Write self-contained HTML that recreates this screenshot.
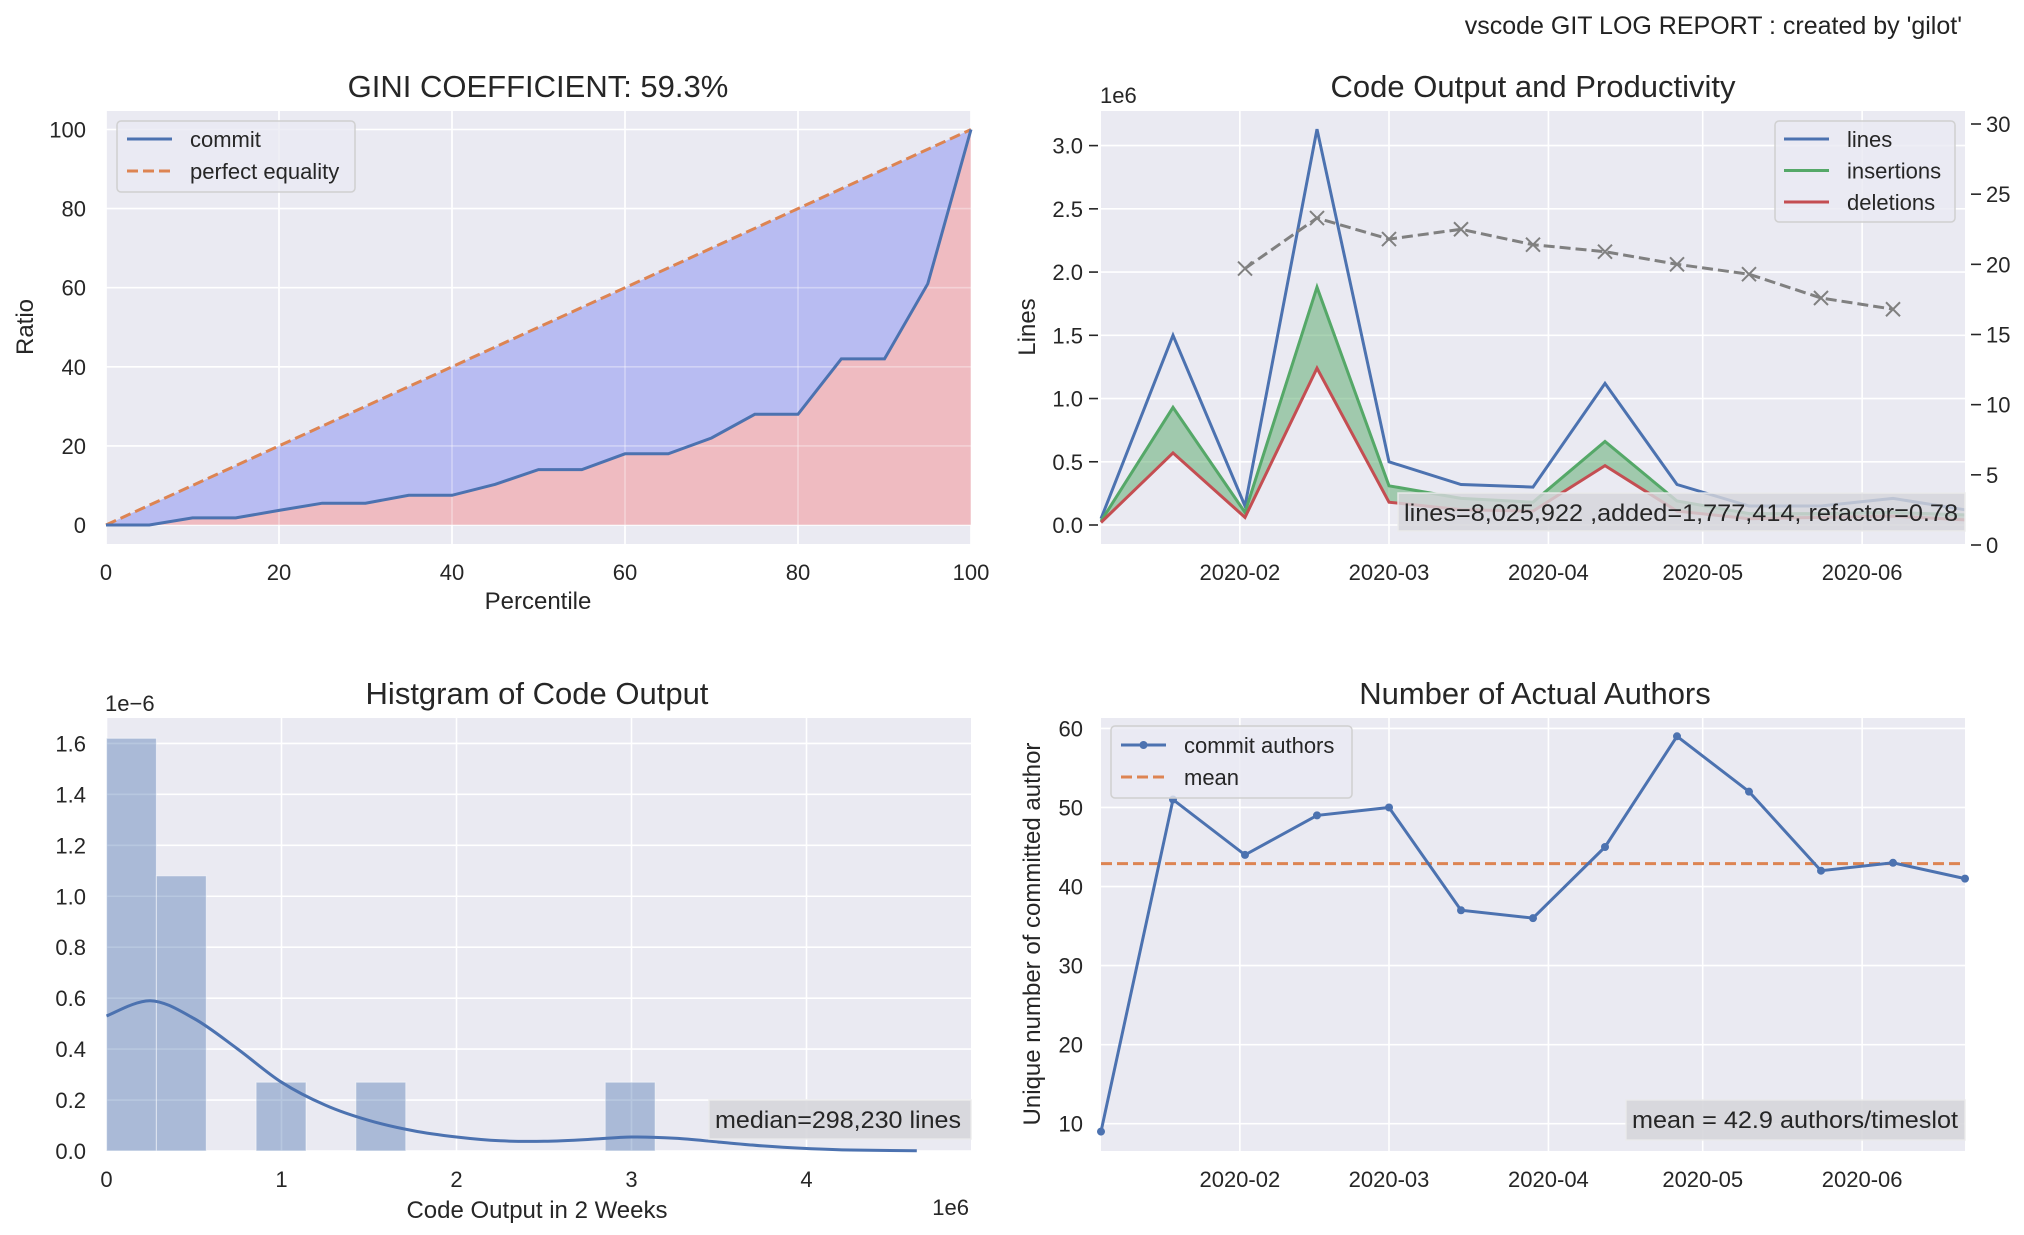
<!DOCTYPE html>
<html><head><meta charset="utf-8">
<style>
html,body{margin:0;padding:0;background:#fff;}
svg{display:block;font-family:"Liberation Sans",Arial,sans-serif;}
</style></head>
<body>
<svg id="fig" width="2024" height="1235" viewBox="0 0 2024 1235" xmlns="http://www.w3.org/2000/svg">
<text x="1962" y="34" font-size="25" text-anchor="end" fill="#222">vscode GIT LOG REPORT : created by 'gilot'</text>
</svg>
<script>
// ---------- Data ----------
const giniX = [0,5,10,15,20,25,30,35,40,45,50,55,60,65,70,75,80,85,90,95,100];
const giniCommit = [0,0,1.8,1.8,3.7,5.5,5.5,7.5,7.5,10.3,14,14,18,18,22,28,28,42,42,61,100];
const giniTicks = [0,20,40,60,80,100];

// day-of-year (0 = Jan 1 2020) for each 2-week slot
const slotDays = [4,18,32,46,60,74,88,102,116,130,144,158,172];
const dateTickDays = [31,60,91,121,152];
const dateTickLabels = ['2020-02','2020-03','2020-04','2020-05','2020-06'];
const linesVals = [0.05,1.5,0.15,3.13,0.5,0.32,0.30,1.12,0.32,0.15,0.15,0.21,0.12];
const insertVals = [0.03,0.93,0.10,1.88,0.31,0.21,0.18,0.66,0.19,0.09,0.09,0.10,0.08];
const deleteVals = [0.02,0.57,0.06,1.24,0.18,0.12,0.11,0.47,0.11,0.05,0.06,0.07,0.04];
const prodVals = [null,null,19.7,23.3,21.8,22.5,21.4,20.9,20.0,19.3,17.6,16.8,null];
const linesTicks = [0,0.5,1.0,1.5,2.0,2.5,3.0];
const prodTicks = [0,5,10,15,20,25,30];

const histEdges = [0,0.285,0.57,0.855,1.14,1.425,1.71,1.995,2.28,2.565,2.85,3.135];
const histDensity = [1.62,1.08,0,0.27,0,0.27,0,0,0,0,0.27];
const kdeX = [0,0.25,0.5,0.75,1.0,1.25,1.5,1.75,2.0,2.25,2.5,2.75,3.0,3.25,3.5,3.75,4.0,4.25,4.63];
const kdeY = [0.53,0.59,0.52,0.40,0.27,0.18,0.12,0.08,0.055,0.04,0.038,0.045,0.055,0.05,0.035,0.02,0.01,0.004,0.001];
const histXTicks = [0,1,2,3,4];
const histYTicks = [0,0.2,0.4,0.6,0.8,1.0,1.2,1.4,1.6];

const authorVals = [9,51,44,49,50,37,36,45,59,52,42,43,41];
const authorMean = 42.9;
const authorTicks = [10,20,30,40,50,60];

// ---------- helpers ----------
const NS='http://www.w3.org/2000/svg';
const svg=document.getElementById('fig');
const FT=22, FTITLE=31, FLAB=24, FLEG=22, FANN=24;
function el(tag,attrs,parent){const e=document.createElementNS(NS,tag);for(const k in attrs)e.setAttribute(k,attrs[k]);(parent||svg).appendChild(e);return e;}
function txt(s,attrs,parent){const e=el('text',attrs,parent);e.textContent=s;return e;}
function lin(d0,d1,r0,r1){return v=>r0+(v-d0)*(r1-r0)/(d1-d0);}
function pathOf(xs,ys,fx,fy){let d='';let pen=false;for(let i=0;i<xs.length;i++){if(ys[i]===null){pen=false;continue;}d+=(pen?'L':'M')+fx(xs[i]).toFixed(1)+','+fy(ys[i]).toFixed(1);pen=true;}return d;}
function smoothPath(xs,ys,fx,fy){
  const P=xs.map((x,i)=>[fx(x),fy(ys[i])]);
  let d='M'+P[0][0].toFixed(1)+','+P[0][1].toFixed(1);
  for(let i=0;i<P.length-1;i++){
    const p0=P[i-1]||P[i],p1=P[i],p2=P[i+1],p3=P[i+2]||P[i+1];
    const c1=[p1[0]+(p2[0]-p0[0])/6,p1[1]+(p2[1]-p0[1])/6];
    const c2=[p2[0]-(p3[0]-p1[0])/6,p2[1]-(p3[1]-p1[1])/6];
    d+=`C${c1[0].toFixed(1)},${c1[1].toFixed(1)} ${c2[0].toFixed(1)},${c2[1].toFixed(1)} ${p2[0].toFixed(1)},${p2[1].toFixed(1)}`;
  }
  return d;
}
const BG='#eaeaf2',TXT='#262626';
function panel(name,L,T,R,B){
  const g=el('g',{});
  const r=el('rect',{x:L,y:T,width:R-L,height:B-T,fill:BG},g);
  
  return g;
}
function grid(g,L,T,R,B,xs,ys){
  const gg=el('g',{stroke:'#fff','stroke-width':1.6},g);
  
  xs.forEach(x=>el('line',{x1:x,x2:x,y1:T,y2:B},gg));
  ys.forEach(y=>el('line',{x1:L,x2:R,y1:y,y2:y},gg));
}

// ---------- Panel 1: Gini ----------
(function(){
  const L=106,T=111,R=971,B=544;
  const fx=lin(0,100,106,971), fy=lin(0,100,525,129.5);
  const g=panel('gini-chart',L,T,R,B);
  grid(g,L,T,R,B,giniTicks.map(fx),giniTicks.map(fy));
  let top='',bot='';
  for(let i=0;i<giniX.length;i++){top+=(i?'L':'M')+fx(giniX[i])+','+fy(giniX[i]);}
  for(let i=giniX.length-1;i>=0;i--){top+='L'+fx(giniX[i])+','+fy(giniCommit[i]);}
  const f1=el('path',{d:top+'Z',fill:'rgb(184,188,242)'},g);
  
  for(let i=0;i<giniX.length;i++){bot+=(i?'L':'M')+fx(giniX[i])+','+fy(giniCommit[i]);}
  bot+='L'+fx(100)+','+fy(0)+'L'+fx(0)+','+fy(0)+'Z';
  const f2=el('path',{d:bot,fill:'rgb(239,187,193)'},g);
  
  const gg=el('g',{stroke:'rgba(255,255,255,0.35)','stroke-width':1.6},g);
  giniTicks.forEach(v=>{el('line',{x1:fx(v),x2:fx(v),y1:T,y2:B},gg);el('line',{x1:L,x2:R,y1:fy(v),y2:fy(v)},gg);});
  const pe=el('path',{d:'M'+fx(0)+','+fy(0)+'L'+fx(100)+','+fy(100),stroke:'#dd8452','stroke-width':3,'stroke-dasharray':'11,5',fill:'none'},g);
  
  const cl=el('path',{d:pathOf(giniX,giniCommit,fx,fy),stroke:'#4c72b0','stroke-width':3,fill:'none'},g);
  
  giniTicks.forEach(v=>{
    const a=txt(String(v),{x:fx(v),y:580,'font-size':FT,'text-anchor':'middle',fill:TXT},g);
    
    const b=txt(String(v),{x:86,y:fy(v)+8,'font-size':FT,'text-anchor':'end',fill:TXT},g);
    
  });
  const t=txt('GINI COEFFICIENT: 59.3%',{x:538,y:97,'font-size':FTITLE,'text-anchor':'middle',fill:TXT},g);
  
  const xl=txt('Percentile',{x:538,y:609,'font-size':FLAB,'text-anchor':'middle',fill:TXT},g);
  
  const yl=txt('Ratio',{x:33,y:327,'font-size':FLAB,'text-anchor':'middle',fill:TXT,transform:'rotate(-90 33 327)'},g);
  
  const lg=el('g',{},g);
  el('rect',{x:117,y:121,width:238,height:71,rx:4,fill:'rgba(234,234,242,0.8)',stroke:'#d0d0d0','stroke-width':1.5},lg);
  el('line',{x1:127,x2:172,y1:139,y2:139,stroke:'#4c72b0','stroke-width':3},lg);
  el('line',{x1:127,x2:172,y1:171,y2:171,stroke:'#dd8452','stroke-width':3,'stroke-dasharray':'11,5'},lg);
  txt('commit',{x:190,y:147,'font-size':FLEG,fill:TXT},lg);
  txt('perfect equality',{x:190,y:179,'font-size':FLEG,fill:TXT},lg);
})();

// ---------- Panel 2: Code Output ----------
(function(){
  const L=1101,T=111,R=1965,B=544;
  const fx=lin(4,172,1101,1965), fy=lin(0,3,525,145.6), fy2=lin(0,30,545,124);
  const g=panel('code-output-chart',L,T,R,B);
  grid(g,L,T,R,B,dateTickDays.map(fx),linesTicks.map(fy));
  let d='';
  for(let i=0;i<slotDays.length;i++)d+=(i?'L':'M')+fx(slotDays[i])+','+fy(insertVals[i]);
  for(let i=slotDays.length-1;i>=0;i--)d+='L'+fx(slotDays[i])+','+fy(deleteVals[i]);
  const fa=el('path',{d:d+'Z',fill:'rgba(85,168,104,0.5)'},g);
  
  const sers=[[linesVals,'#4c72b0','lines-line'],[insertVals,'#55a868','insertions-line'],[deleteVals,'#c44e52','deletions-line']];
  sers.forEach(s=>{const p=el('path',{d:pathOf(slotDays,s[0],fx,fy),stroke:s[1],'stroke-width':3,fill:'none'},g);
    });
  const pl=el('path',{d:pathOf(slotDays,prodVals,fx,fy2),stroke:'#808080','stroke-width':3,'stroke-dasharray':'11,5',fill:'none'},g);
  
  slotDays.forEach((dd,i)=>{if(prodVals[i]===null)return;const x=fx(dd),y=fy2(prodVals[i]);
    const m=el('path',{d:`M${x-7},${y-7}L${x+7},${y+7}M${x-7},${y+7}L${x+7},${y-7}`,stroke:'#808080','stroke-width':2},g);
    });
  const ab=el('g',{},g);
  el('rect',{x:1398,y:493,width:567,height:38,fill:'rgba(214,214,218,0.82)',stroke:'rgba(235,235,235,0.9)','stroke-width':1.5},ab);
  txt('lines=8,025,922 ,added=1,777,414, refactor=0.78',{x:1404,y:521,'font-size':FANN,fill:TXT,textLength:554,lengthAdjust:'spacingAndGlyphs'},ab);
  linesTicks.forEach(v=>{
    el('line',{x1:1089,x2:1098,y1:fy(v),y2:fy(v),stroke:TXT,'stroke-width':1.6},g);
    const b=txt(v.toFixed(1),{x:1083,y:fy(v)+8,'font-size':FT,'text-anchor':'end',fill:TXT},g);
    
  });
  prodTicks.forEach(v=>{
    el('line',{x1:1971,x2:1981,y1:fy2(v),y2:fy2(v),stroke:TXT,'stroke-width':1.6},g);
    const b=txt(String(v),{x:1986,y:fy2(v)+8,'font-size':FT,fill:TXT},g);
    
  });
  dateTickDays.forEach((v,i)=>{const a=txt(dateTickLabels[i],{x:fx(v),y:580,'font-size':FT,'text-anchor':'middle',fill:TXT},g);
    });
  const t=txt('Code Output and Productivity',{x:1533,y:97,'font-size':FTITLE,'text-anchor':'middle',fill:TXT},g);
  
  const o=txt('1e6',{x:1100,y:103,'font-size':FT,fill:TXT},g);
  
  const yl=txt('Lines',{x:1035,y:327,'font-size':FLAB,'text-anchor':'middle',fill:TXT,transform:'rotate(-90 1035 327)'},g);
  
  const lg=el('g',{},g);
  el('rect',{x:1775,y:121,width:180,height:101,rx:4,fill:'rgba(234,234,242,0.8)',stroke:'#d0d0d0','stroke-width':1.5},lg);
  [['lines','#4c72b0'],['insertions','#55a868'],['deletions','#c44e52']].forEach((s,i)=>{
    el('line',{x1:1784,x2:1829,y1:139+i*31.5,y2:139+i*31.5,stroke:s[1],'stroke-width':3},lg);
    txt(s[0],{x:1847,y:147+i*31.5,'font-size':FLEG,fill:TXT},lg);});
})();

// ---------- Panel 3: Histogram ----------
(function(){
  const L=106,T=718,R=971,B=1151;
  const fx=lin(0,1,106.5,281.5), fy=lin(0,1.6,1151,743.4);
  const g=panel('histogram-chart',L,T,R,B);
  grid(g,L,T,R,B,histXTicks.map(fx),histYTicks.map(fy));
  histDensity.forEach((v,i)=>{if(v<=0)return;const x0=fx(histEdges[i]),x1=fx(histEdges[i+1]);
    const r=el('rect',{x:x0,y:fy(v),width:x1-x0,height:fy(0)-fy(v),fill:'rgba(76,114,176,0.4)',stroke:'rgba(255,255,255,0.5)','stroke-width':1},g);
    });
  const k=el('path',{d:smoothPath(kdeX,kdeY,fx,fy),stroke:'#4c72b0','stroke-width':3,fill:'none'},g);
  
  const ab=el('g',{},g);
  el('rect',{x:709,y:1100,width:262,height:39,fill:'rgba(214,214,218,0.9)',stroke:'rgba(235,235,235,0.9)','stroke-width':1.5},ab);
  txt('median=298,230 lines',{x:715,y:1128,'font-size':FANN,fill:TXT,textLength:246,lengthAdjust:'spacingAndGlyphs'},ab);
  histXTicks.forEach(v=>{const a=txt(String(v),{x:fx(v),y:1187,'font-size':FT,'text-anchor':'middle',fill:TXT},g);
    });
  histYTicks.forEach(v=>{const b=txt(v.toFixed(1),{x:86,y:fy(v)+8,'font-size':FT,'text-anchor':'end',fill:TXT},g);
    });
  const t=txt('Histgram of Code Output',{x:537,y:704,'font-size':FTITLE,'text-anchor':'middle',fill:TXT},g);
  
  const o=txt('1e\u22126',{x:105,y:711,'font-size':FT,fill:TXT},g);
  
  const o2=txt('1e6',{x:969,y:1215,'font-size':FT,'text-anchor':'end',fill:TXT},g);
  
  const xl=txt('Code Output in 2 Weeks',{x:537,y:1218,'font-size':FLAB,'text-anchor':'middle',fill:TXT},g);
  
})();

// ---------- Panel 4: Authors ----------
(function(){
  const L=1101,T=718,R=1965,B=1151;
  const fx=lin(4,172,1101,1965), fy=lin(10,60,1123.7,728.4);
  const g=panel('authors-chart',L,T,R,B);
  grid(g,L,T,R,B,dateTickDays.map(fx),authorTicks.map(fy));
  const ml=el('line',{x1:L,x2:R,y1:fy(authorMean),y2:fy(authorMean),stroke:'#dd8452','stroke-width':3,'stroke-dasharray':'11,5'},g);
  
  const al=el('path',{d:pathOf(slotDays,authorVals,fx,fy),stroke:'#4c72b0','stroke-width':3,fill:'none'},g);
  
  slotDays.forEach((d,i)=>{const c=el('circle',{cx:fx(d),cy:fy(authorVals[i]),r:4,fill:'#4c72b0'},g);
    });
  const ab=el('g',{},g);
  el('rect',{x:1626,y:1100,width:339,height:40,fill:'rgba(214,214,218,0.9)',stroke:'rgba(235,235,235,0.9)','stroke-width':1.5},ab);
  txt('mean = 42.9 authors/timeslot',{x:1632,y:1128,'font-size':FANN,fill:TXT,textLength:326,lengthAdjust:'spacingAndGlyphs'},ab);
  dateTickDays.forEach((v,i)=>{const a=txt(dateTickLabels[i],{x:fx(v),y:1187,'font-size':FT,'text-anchor':'middle',fill:TXT},g);
    });
  authorTicks.forEach(v=>{const b=txt(String(v),{x:1083,y:fy(v)+8,'font-size':FT,'text-anchor':'end',fill:TXT},g);
    });
  const t=txt('Number of Actual Authors',{x:1535,y:704,'font-size':FTITLE,'text-anchor':'middle',fill:TXT},g);
  
  const yl=txt('Unique number of committed author',{x:1040,y:934,'font-size':FLAB,'text-anchor':'middle',fill:TXT,transform:'rotate(-90 1040 934)'},g);
  
  const lg=el('g',{},g);
  el('rect',{x:1111,y:726,width:241,height:72,rx:4,fill:'rgba(234,234,242,0.8)',stroke:'#d0d0d0','stroke-width':1.5},lg);
  el('line',{x1:1121,x2:1166,y1:745,y2:745,stroke:'#4c72b0','stroke-width':3},lg);
  el('circle',{cx:1143.5,cy:745,r:4,fill:'#4c72b0'},lg);
  el('line',{x1:1121,x2:1166,y1:777,y2:777,stroke:'#dd8452','stroke-width':3,'stroke-dasharray':'11,5'},lg);
  txt('commit authors',{x:1184,y:753,'font-size':FLEG,fill:TXT},lg);
  txt('mean',{x:1184,y:785,'font-size':FLEG,fill:TXT},lg);
})();
</script>
</body></html>
